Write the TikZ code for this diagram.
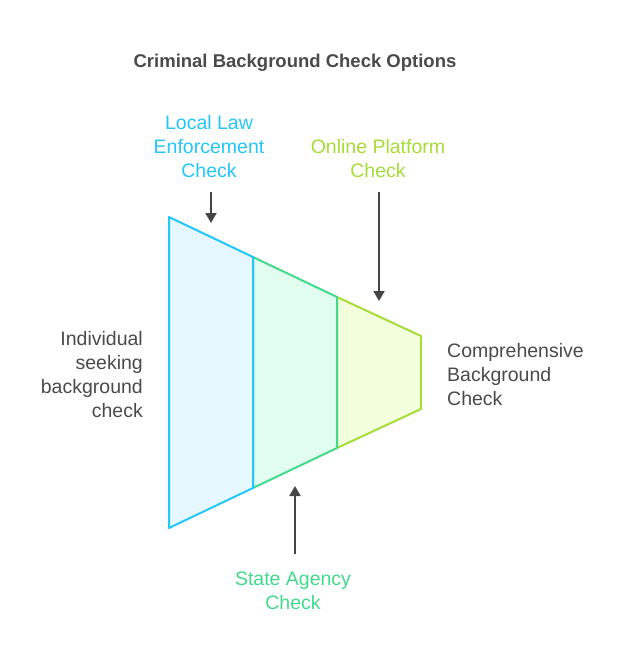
\documentclass[tikz,border=0pt]{standalone}
\usepackage{fontspec}
\setmainfont{Liberation Sans}
\usetikzlibrary{arrows.meta}
\definecolor{cblue}{HTML}{22C6FB}
\definecolor{fblue}{HTML}{E6F8FF}
\definecolor{cgreen}{HTML}{40DA8A}
\definecolor{fgreen}{HTML}{E1FDEF}
\definecolor{clime}{HTML}{A6DC38}
\definecolor{flime}{HTML}{F2FEDC}
\definecolor{ink}{HTML}{454545}
\definecolor{txt}{HTML}{4A4A4A}
\tikzset{
  seg/.style={line width=2pt, line join=round},
  lbl/.style={font=\fontsize{19.5}{24}\selectfont, align=center, inner sep=0pt},
  pointer/.style={draw=ink, line width=2pt, -{Triangle[length=10pt,width=11pt]}},
}
\begin{document}
\begin{tikzpicture}[x=1pt,y=-1pt]
\useasboundingbox (0,0) rectangle (626,662);
% coordinates of the funnel
\coordinate (a1) at (169,217); \coordinate (a2) at (169,528);
\coordinate (b1) at (253,257); \coordinate (b2) at (253,488);
\coordinate (c1) at (337,297); \coordinate (c2) at (337,448);
\coordinate (d1) at (421,336); \coordinate (d2) at (421,409);
\draw[seg, draw=clime, fill=flime] (c1) -- (d1) -- (d2) -- (c2) -- cycle;
\draw[seg, draw=cgreen, fill=fgreen] (b1) -- (c1) -- (c2) -- (b2) -- cycle;
\draw[seg, draw=cblue, fill=fblue] (a1) -- (b1) -- (b2) -- (a2) -- cycle;
% title
\node[font=\fontsize{18.5}{22}\selectfont\bfseries, text=txt, inner sep=0pt] (title) at (295,63) {Criminal Background Check Options};
% labels
\node[lbl, text=cblue] (local) at (209,146.5) {Local Law\\Enforcement\\Check};
\node[lbl, text=clime] (online) at (378,158.5) {Online Platform\\Check};
\node[lbl, text=cgreen] (state) at (293,590.5) {State Agency\\Check};
\node[lbl, text=txt, align=right, anchor=east] (indiv) at (143,374.5) {Individual\\seeking\\background\\check};
\node[lbl, text=txt, align=left, anchor=west] (comp) at (447,374.5) {Comprehensive\\Background\\Check};
% arrows
\coordinate (p1s) at (211,192); \coordinate (p1e) at (211,223);
\coordinate (p2s) at (379,192); \coordinate (p2e) at (379,301);
\coordinate (p3s) at (295,554); \coordinate (p3e) at (295,486);
\draw[pointer] (p1s) -- (p1e);
\draw[pointer] (p2s) -- (p2e);
\draw[pointer] (p3s) -- (p3e);
\end{tikzpicture}
\end{document}
